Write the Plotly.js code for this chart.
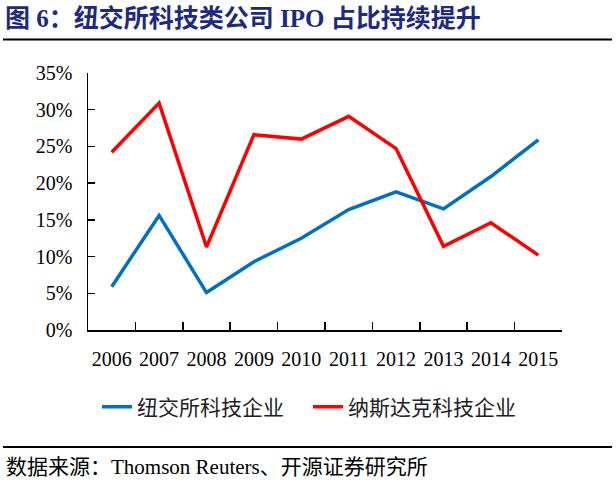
<!DOCTYPE html>
<html>
<head>
<meta charset="utf-8">
<script src="https://cdn.plot.ly/plotly-3.0.1.min.js"></script>
<style>html,body{margin:0;padding:0;background:#fff;}#chart{width:616px;height:482px;}</style>
</head>
<body>
<div id="chart"></div>
<script>
const years = ['2006','2007','2008','2009','2010','2011','2012','2013','2014','2015'];
const nyseTech = [5.9, 15.6, 5.1, 9.3, 12.5, 16.4, 18.8, 16.5, 20.9, 25.9];
const nasdaqTech = [24.2, 30.9, 11.3, 26.6, 26.0, 29.1, 24.7, 11.4, 14.6, 10.2];
const seriesNames = ['纽交所科技企业', '纳斯达克科技企业'];
const yTicks = [0, 5, 10, 15, 20, 25, 30, 35];

const serif = 'Liberation Serif, "Times New Roman", "Noto Sans CJK SC", serif';
const cjk = 'Liberation Serif, "Noto Sans CJK SC", sans-serif';

const traces = [
  {x: years, y: nyseTech, name: seriesNames[0], type: 'scatter', mode: 'lines',
   line: {color: '#0070C0', width: 3.5}},
  {x: years, y: nasdaqTech, name: seriesNames[1], type: 'scatter', mode: 'lines',
   line: {color: '#FF0000', width: 3.5}}
];

const layout = {
  width: 616, height: 482,
  margin: {l: 88, r: 54, t: 73, b: 152, pad: 0},
  paper_bgcolor: '#fff', plot_bgcolor: '#fff',
  font: {family: serif, color: '#000', size: 20},
  title: {
    text: '<b>图 6：纽交所科技类公司 IPO 占比持续提升</b>',
    xref: 'container', yref: 'container',
    x: 5/616, xanchor: 'left', y: 1 - 18/482, yanchor: 'middle',
    font: {family: cjk, size: 25, color: '#1c2a80'}
  },
  xaxis: {
    type: 'category', range: [-0.5, 9.5], tickson: 'boundaries',
    ticks: 'inside', ticklen: 8, tickcolor: '#000', tickwidth: 1.5,
    showline: true, linecolor: '#000', linewidth: 1.5,
    showgrid: false, zeroline: false, tickangle: 0,
    tickfont: {family: serif, size: 20, color: '#000'},
    ticklabelstandoff: 10, fixedrange: true
  },
  yaxis: {
    range: [0, 35], tickvals: yTicks, ticktext: yTicks.map(v => v + '%'),
    ticks: 'inside', ticklen: 7, tickcolor: '#000', tickwidth: 1.5,
    showline: true, linecolor: '#000', linewidth: 1.5,
    showgrid: false, zeroline: false,
    tickfont: {family: serif, size: 20, color: '#000'},
    ticklabelstandoff: 10, fixedrange: true
  },
  showlegend: true,
  legend: {
    orientation: 'h', x: (97 - 88)/474, xanchor: 'left',
    y: (330 - 407)/257, yanchor: 'middle',
    font: {family: '"Noto Sans CJK SC", sans-serif', size: 21, color: '#222'},
    entrywidth: 166, entrywidthmode: 'pixels',
    bgcolor: 'rgba(0,0,0,0)', itemclick: false, itemdoubleclick: false
  },
  shapes: [
    {type: 'line', xref: 'paper', yref: 'paper',
     x0: (3 - 88)/474, x1: (612 - 88)/474, y0: (330 - 39.5)/257, y1: (330 - 39.5)/257,
     line: {color: '#000', width: 2}},
    {type: 'line', xref: 'paper', yref: 'paper',
     x0: (3 - 88)/474, x1: (612 - 88)/474, y0: (330 - 447)/257, y1: (330 - 447)/257,
     line: {color: '#000', width: 2}}
  ],
  annotations: [
    {text: '数据来源：Thomson Reuters、开源证券研究所', xref: 'paper', yref: 'paper',
     x: (4 - 88)/474, xanchor: 'left', y: (330 - 467)/257, yanchor: 'middle',
     showarrow: false, font: {family: cjk, size: 21, color: '#000'}}
  ]
};

Plotly.newPlot('chart', traces, layout, {displayModeBar: false, staticPlot: true});
</script>
</body>
</html>
